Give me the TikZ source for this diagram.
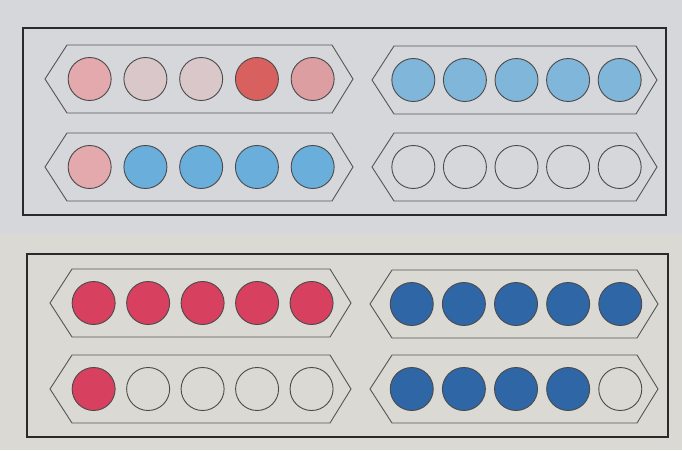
\documentclass[tikz,border=0pt]{standalone}
\definecolor{papertop}{HTML}{D5D7DB}
\definecolor{paperbot}{HTML}{DAD9D3}
\definecolor{pinklight}{HTML}{E3A9AD}
\definecolor{pinkfaint}{HTML}{D9C7CA}
\definecolor{redmark}{HTML}{D8615F}
\definecolor{pinkmid}{HTML}{DC9EA1}
\definecolor{bluelight}{HTML}{80B6DA}
\definecolor{bluemid}{HTML}{6AAEDB}
\definecolor{redfull}{HTML}{D8405F}
\definecolor{bluedark}{HTML}{2F66A6}
\definecolor{inkline}{HTML}{2A2A2A}
\tikzset{
  framebox/.style={draw=inkline, line width=1.8pt},
  rackline/.style={draw=inkline!80, line width=0.9pt, line join=miter},
  bead/.style={circle, draw=inkline!85, line width=0.9pt, minimum size=43pt, inner sep=0pt}
}
% #1 name, #2 x of left point, #3 x of right point, #4 centre y, #5-#9 fills
\newcommand{\rack}[9]{%
  \pgfmathsetmacro{\rw}{#3-#2}%
  \pgfmathsetmacro{\rs}{0.181*\rw}%
  \pgfmathsetmacro{\rf}{#2+0.145*\rw}%
  \draw[rackline] (#2,#4) -- (#2+22,#4-34) -- (#3-21,#4-34) -- (#3,#4) -- (#3-21,#4+34) -- (#2+22,#4+34) -- cycle;
  \node[bead, fill=#5] (#1-1) at (\rf,#4) {};
  \node[bead, fill=#6] (#1-2) at (\rf+\rs,#4) {};
  \node[bead, fill=#7] (#1-3) at (\rf+2*\rs,#4) {};
  \node[bead, fill=#8] (#1-4) at (\rf+3*\rs,#4) {};
  \node[bead, fill=#9] (#1-5) at (\rf+4*\rs,#4) {};
}
\begin{document}
\begin{tikzpicture}[x=1pt, y=-1pt]
\useasboundingbox (0,0) rectangle (682,450);
\fill[papertop] (0,0) rectangle (682,234);
\fill[paperbot] (0,234) rectangle (682,450);
% frames
\draw[framebox] (23,28) rectangle (666,215);
\draw[framebox] (27,254) rectangle (668,437);
% upper frame
\rack{a}{45}{353}{79}{pinklight}{pinkfaint}{pinkfaint}{redmark}{pinkmid}
\rack{b}{372}{657}{80}{bluelight}{bluelight}{bluelight}{bluelight}{bluelight}
\rack{c}{45}{353}{167}{pinklight}{bluemid}{bluemid}{bluemid}{bluemid}
\rack{d}{372}{657}{167}{none}{none}{none}{none}{none}
% lower frame
\rack{e}{50}{351}{303}{redfull}{redfull}{redfull}{redfull}{redfull}
\rack{f}{370}{658}{304}{bluedark}{bluedark}{bluedark}{bluedark}{bluedark}
\rack{g}{50}{351}{389}{redfull}{none}{none}{none}{none}
\rack{h}{370}{658}{389}{bluedark}{bluedark}{bluedark}{bluedark}{none}
\end{tikzpicture}
\end{document}
